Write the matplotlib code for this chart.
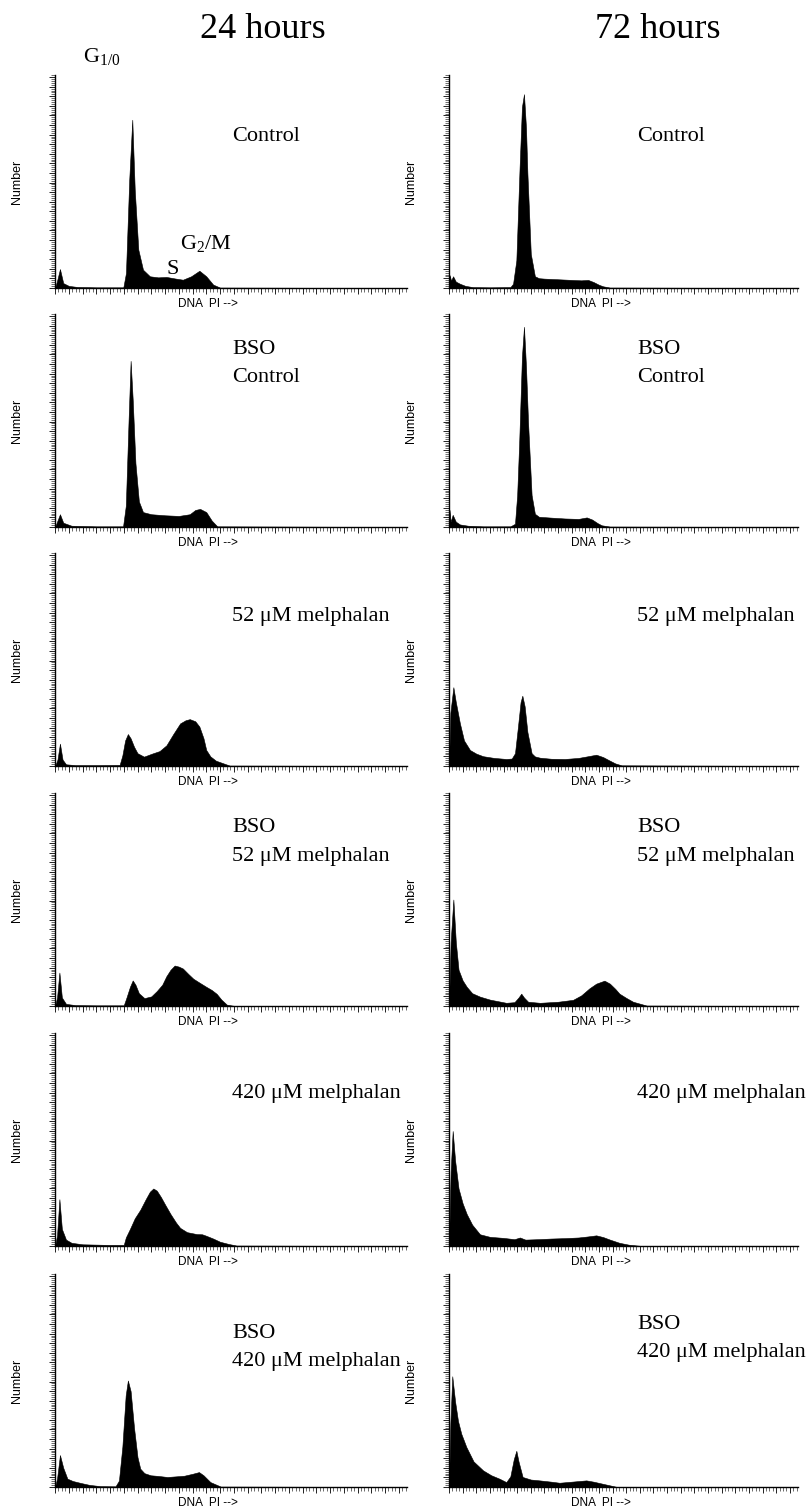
import matplotlib
matplotlib.use("Agg")
from matplotlib import pyplot as plt
from matplotlib.ticker import MultipleLocator

# DNA histograms, channel (0-256) vs. count as % of the panel height
ctrl_24_x = [0, 1.7, 3.6, 6, 10, 16, 30, 49.7, 51.6, 54, 56.2, 58, 60.6, 64, 69, 75, 81, 87, 93, 99, 105, 110, 115, 120, 256]
ctrl_24_y = [0, 3.9, 8.9, 2.3, 1.0, 0.5, 0.3, 0.3, 7, 51, 79, 46, 18, 8.6, 5.5, 5.0, 5.2, 4.5, 3.9, 5.5, 8.1, 5.5, 1.6, 0.2, 0]

bso_ctrl_24_x = [0, 1.5, 3.6, 6, 12, 30, 49.5, 51.5, 53.5, 55, 56.5, 58.5, 61, 64, 70, 80, 90, 98, 102, 105.5, 110, 114, 118, 256]
bso_ctrl_24_y = [0, 2.5, 6, 2, 0.6, 0.3, 0.3, 10, 50, 78, 60, 30, 12, 7, 6, 5.5, 5.2, 6, 8, 8.5, 7, 3, 0.3, 0]

mel52_24_x = [0, 1.8, 3.6, 5.5, 8, 15, 30, 47, 49, 51, 53, 55, 57.5, 60, 64.7, 70.5, 76, 81, 86, 91, 95, 98, 102, 105, 108, 110, 113, 117, 127, 256]
mel52_24_y = [0, 3, 10.5, 3, 0.8, 0.4, 0.4, 0.5, 5, 12, 15, 13, 9, 6, 4.4, 5.8, 7, 9.7, 15, 20, 21.5, 22, 21, 18.5, 13, 7.5, 4.5, 2.5, 0.2, 0]

bso_mel52_24_x = [0, 1.5, 3.2, 5, 8, 15, 30, 50, 52, 54.5, 56.5, 58.5, 61, 65, 70, 74, 78, 81, 84, 87, 90, 93, 97, 100.6, 105, 110, 114, 117.6, 121, 125, 130, 256]
bso_mel52_24_y = [0, 4, 15.7, 4, 1, 0.4, 0.3, 0.3, 4, 9, 12, 10, 6, 3.7, 4.5, 7, 10, 14, 17, 19, 18.5, 17.6, 15, 12.8, 11, 9, 7.5, 5.7, 3, 0.6, 0.1, 0]

mel420_24_x = [0, 1.5, 3.2, 5, 8, 12, 20, 40, 50, 51.5, 54.5, 58, 62, 66, 69, 71.5, 74, 77, 80, 84, 88, 91, 96, 103, 107, 110, 115, 120, 126, 132, 256]
mel420_24_y = [0, 5, 22, 8, 3, 1.5, 0.8, 0.5, 0.5, 4, 8, 13, 17, 22, 25.5, 27, 26, 23, 19.5, 15, 11, 8.5, 6.5, 5.6, 5.5, 4.8, 3.5, 2, 1, 0.2, 0]

bso_mel420_24_x = [0, 1.5, 3.6, 6, 9, 13, 18.7, 25, 33, 44, 46.5, 49, 51.4, 53, 55, 57.5, 60, 62, 65, 69.6, 75, 81.7, 88, 94, 100, 104.7, 108, 113, 120.5, 256]
bso_mel420_24_y = [0, 4, 15, 9, 3.9, 2.8, 1.9, 1, 0.4, 0.3, 3, 19, 43, 50, 45, 27.7, 14, 8.6, 6.5, 5.5, 5.2, 4.7, 5, 5.3, 6.2, 7, 5.5, 2.3, 0.2, 0]

ctrl_72_x = [0, 0.5, 1.5, 3, 5, 8, 12, 17.6, 30, 45, 47, 49.4, 51.8, 53.5, 55, 56.5, 57.5, 60, 63, 66, 70, 80, 90, 97, 102, 106, 110, 113, 118, 256]
ctrl_72_y = [0, 6, 3.5, 5.5, 3, 2, 1, 0.4, 0.3, 0.4, 2, 13, 57, 85, 91, 75, 54, 16, 5.5, 4.6, 4.4, 4.1, 3.8, 3.6, 3.8, 2.8, 1.5, 0.8, 0.2, 0]

bso_ctrl_72_x = [0, 0.4, 1.2, 2.7, 5, 8, 14, 25, 45, 48.4, 50, 51.5, 53.5, 55, 56.5, 58, 60.6, 63, 66, 75, 85, 95, 101, 105, 109, 112, 118, 256]
bso_ctrl_72_y = [0, 8, 2.5, 5.7, 2.5, 1.2, 0.6, 0.3, 0.3, 1.5, 15, 40, 80, 94, 75, 49, 15, 6.2, 4.8, 4.4, 4, 3.8, 4.5, 3.5, 1.8, 0.8, 0.2, 0]

mel52_72_x = [0, 1, 3.2, 5, 8, 11, 15.4, 20, 25, 33, 42, 46, 48.4, 50.5, 52.5, 53.8, 55.5, 57.5, 60.6, 63, 66.7, 75, 85, 95, 102, 108, 113, 118, 122, 126.6, 256]
mel52_72_y = [0, 25, 37, 30, 20, 12, 7.5, 5.8, 4.6, 3.8, 3.3, 3.5, 6, 18, 30, 33, 28, 16, 6, 4.5, 3.9, 3.4, 3.3, 3.8, 4.6, 5.3, 4.2, 2.5, 1.2, 0.3, 0]

bso_mel52_72_x = [0, 1.2, 3.2, 5, 7, 10, 13, 17, 22.7, 30, 42, 48, 51, 53, 55, 58, 66.7, 80, 91, 97, 103, 108, 114, 118, 122, 125, 130, 135, 145, 256]
bso_mel52_72_y = [0, 30, 50, 30, 17, 12, 9, 6, 4.4, 3, 1.5, 1.8, 4, 5.8, 4, 2, 1.5, 2, 2.9, 5, 8.3, 10.5, 11.9, 10.5, 8, 5.8, 3.8, 2, 0.2, 0]

mel420_72_x = [0, 1.2, 2.7, 4.5, 7, 10, 13, 17, 22.7, 30, 40, 48, 52, 56, 65, 75, 85, 95, 102, 108, 113, 118, 125, 132, 140, 256]
mel420_72_y = [0, 35, 54, 40, 27, 20, 15, 10, 5.5, 4.3, 3.8, 3.2, 4, 3, 3.2, 3.5, 3.7, 4, 4.5, 5, 4.2, 3, 1.5, 0.6, 0.1, 0]

bso_mel420_72_x = [0, 1, 2.4, 4.5, 6.6, 9, 12.7, 18, 25, 31, 37, 42, 45, 47.5, 49.4, 51, 54, 60, 66.5, 75, 81, 90, 100.7, 106, 115, 122.7, 256]
bso_mel420_72_y = [0, 30, 52, 40, 31, 25, 18.8, 12, 7.8, 5.5, 3.9, 2.3, 5, 13, 17, 12, 4.7, 3.5, 3.1, 2.5, 2, 2.5, 3.1, 2.5, 1.2, 0.1, 0]

column_titles = ["24 hours", "72 hours"]
row_labels = [
    ["Control"],
    ["BSO", "Control"],
    ["52 \u03bcM melphalan"],
    ["BSO", "52 \u03bcM melphalan"],
    ["420 \u03bcM melphalan"],
    ["BSO", "420 \u03bcM melphalan"],
]
panels = [
    [(ctrl_24_x, ctrl_24_y), (ctrl_72_x, ctrl_72_y)],
    [(bso_ctrl_24_x, bso_ctrl_24_y), (bso_ctrl_72_x, bso_ctrl_72_y)],
    [(mel52_24_x, mel52_24_y), (mel52_72_x, mel52_72_y)],
    [(bso_mel52_24_x, bso_mel52_24_y), (bso_mel52_72_x, bso_mel52_72_y)],
    [(mel420_24_x, mel420_24_y), (mel420_72_x, mel420_72_y)],
    [(bso_mel420_24_x, bso_mel420_24_y), (bso_mel420_72_x, bso_mel420_72_y)],
]

W, H = 809, 1511
SERIF = "Liberation Serif"
SANS = "Liberation Sans"

fig = plt.figure(figsize=(W / 100, H / 100), dpi=100)

col_left = [55, 449]
col_width = [352, 349]
baselines = [288, 527, 766, 1006, 1246, 1487]
ax_h = 213
# label placement (axes fraction): x per column, y of last line per row/column
label_x = [0.503, 0.539]
label_y = [[0.71, 0.71], [0.70, 0.70], [0.70, 0.70], [0.704, 0.704], [0.714, 0.714], [0.59, 0.63]]
line_gap = 0.133

for r, row in enumerate(panels):
    for c, (xs, ys) in enumerate(row):
        ax = fig.add_axes([col_left[c] / W, 1 - baselines[r] / H,
                           col_width[c] / W, ax_h / H])
        ax.fill_between(xs, ys, 0, color="black", linewidth=0.4, edgecolor="black")
        ax.set_xlim(0, 256)
        ax.set_ylim(0, 100)
        for side in ("top", "right"):
            ax.spines[side].set_visible(False)
        ax.spines["left"].set_linewidth(1.0)
        ax.spines["bottom"].set_linewidth(1.0)
        ax.xaxis.set_major_locator(MultipleLocator(10))
        ax.xaxis.set_minor_locator(MultipleLocator(2.5))
        ax.yaxis.set_major_locator(MultipleLocator(4.5))
        ax.yaxis.set_minor_locator(MultipleLocator(0.9))
        ax.tick_params(which="major", length=4.5, width=0.7, color="#222222",
                       labelbottom=False, labelleft=False)
        ax.tick_params(which="minor", length=2.6, width=0.55, color="#444444")

        ax.text(-0.108, 0.5, "Number", rotation=90, transform=ax.transAxes,
                ha="center", va="center", family=SANS, fontsize=9)
        ax.text(0.435, -0.075, "DNA  PI -->", transform=ax.transAxes,
                ha="center", va="center", family=SANS, fontsize=8.5)

        lines = row_labels[r]
        y0 = label_y[r][c]
        for k, txt in enumerate(reversed(lines)):
            ax.text(label_x[c], y0 + k * line_gap, txt, transform=ax.transAxes,
                    ha="left", va="center", family=SERIF, fontsize=16)

        if r == 0 and c == 0:
            ax.text(0.08, 1.085, r"$\mathregular{G_{1/0}}$", transform=ax.transAxes,
                    ha="left", va="center", family=SERIF, fontsize=16)
            ax.text(0.318, 0.085, "S", transform=ax.transAxes,
                    ha="left", va="center", family=SERIF, fontsize=16)
            ax.text(0.355, 0.21, r"$\mathregular{G_2/M}$", transform=ax.transAxes,
                    ha="left", va="center", family=SERIF, fontsize=16)

fig.text(263 / W, 1 - 30 / H, column_titles[0], ha="center", va="center",
         family=SERIF, fontsize=26)
fig.text(658 / W, 1 - 30 / H, column_titles[1], ha="center", va="center",
         family=SERIF, fontsize=26)

fig.savefig("out.png", dpi=100, facecolor="white")
